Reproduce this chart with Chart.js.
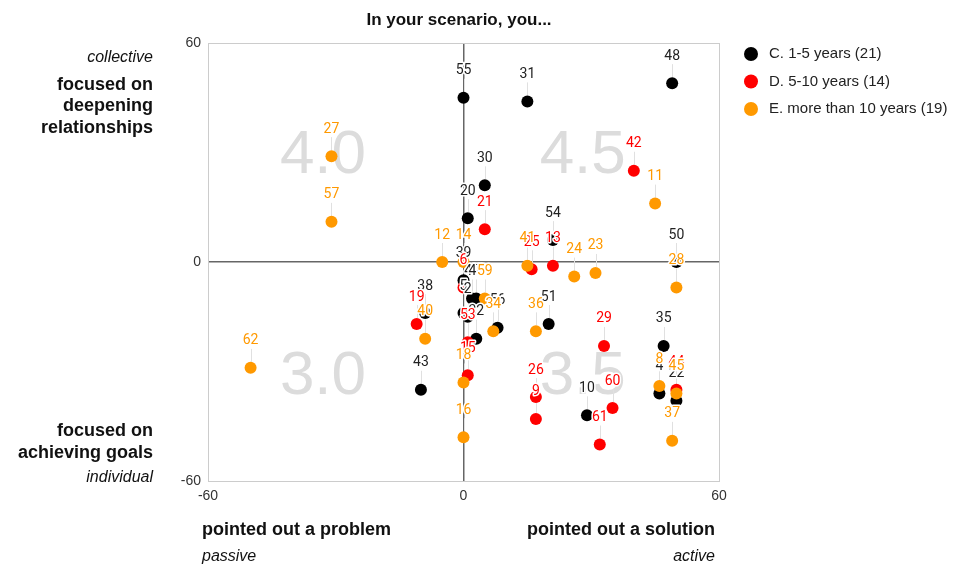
<!DOCTYPE html>
<html>
<head>
<meta charset="utf-8">
<script src="https://cdn.jsdelivr.net/npm/chart.js@4/dist/chart.umd.min.js"></script>
<style>
html,body{margin:0;padding:0;background:#fff;}
canvas{display:block;}
</style>
</head>
<body>
<canvas id="c" width="960" height="587"></canvas>
<script>
// ---- data ----
const seriesNames = ['C. 1-5 years (21)', 'D. 5-10 years (14)', 'E. more than 10 years (19)'];
const seriesColors = ['#000000', '#ff0000', '#ff9900'];
const labelColors = ['#222222', '#ff0000', '#ff9900'];

const cLabels = ['55','31','48','30','20','54','50','39','47','46','56','32','51','38','43','35','10','4','22','5','2'];
const cX      = [0, 15, 49, 5, 1, 21, 50, 0, 2, 3, 8, 3, 20, -9, -10, 47, 29, 46, 50, 0, 1];
const cY      = [45, 44, 49, 21, 12, 6, 0, -5, -10, -10, -18, -21, -17, -14, -35, -23, -42, -36, -38, -14, -15];

const dLabels = ['42','21','25','13','6','19','53','15','29','26','9','60','61','44'];
const dX      = [40, 5, 16, 21, 0, -11, 1, 1, 33, 17, 17, 35, 32, 50];
const dY      = [25, 9, -2, -1, -7, -17, -22, -31, -23, -37, -43, -40, -50, -35];

const eLabels = ['27','57','11','12','14','41','24','23','28','59','34','36','40','62','18','16','8','45','37'];
const eX      = [-31, -31, 45, -5, 0, 15, 26, 31, 50, 5, 7, 17, -9, -50, 0, 0, 46, 50, 49];
const eY      = [29, 11, 16, 0, 0, -1, -4, -3, -7, -10, -19, -19, -21, -29, -33, -48, -34, -36, -49];

const axisTicks = [-60, 0, 60];
const quadrantTexts = ['4.0', '4.5', '3.0', '3.5'];
const titleText = 'In your scenario, you...';

function pts(xs, ys){ return xs.map((x,i)=>({x:x, y:ys[i]})); }
const allLabels = [cLabels, dLabels, eLabels];

const FONT = '"Liberation Sans", Arial, sans-serif';

const overlay = {
  id: 'overlay',
  beforeDatasetsDraw(chart){
    const ctx = chart.ctx, xs = chart.scales.x, ys = chart.scales.y;
    ctx.save();
    // quadrant watermark numbers
    ctx.fillStyle = '#dcdcdc';
    ctx.font = '62px ' + FONT;
    ctx.textAlign = 'center';
    ctx.textBaseline = 'middle';
    const qx = [-33, 28, -33, 28], qy = [29, 29, -31.5, -31.5];
    quadrantTexts.forEach((t,i)=>{
      ctx.fillText(t, xs.getPixelForValue(qx[i]), ys.getPixelForValue(qy[i]));
    });
    // stems
    ctx.strokeStyle = '#e0e0e0';
    ctx.lineWidth = 1;
    chart.data.datasets.forEach((ds, di)=>{
      const meta = chart.getDatasetMeta(di);
      meta.data.forEach((p)=>{
        ctx.beginPath();
        ctx.moveTo(Math.round(p.x)+0.5, p.y - 19);
        ctx.lineTo(Math.round(p.x)+0.5, p.y - 6);
        ctx.stroke();
      });
    });
    ctx.restore();
  },
  afterDatasetsDraw(chart){
    const ctx = chart.ctx;
    ctx.save();
    ctx.font = '14px Roboto, ' + FONT;
    ctx.textAlign = 'center';
    ctx.textBaseline = 'middle';
    ctx.lineJoin = 'round';
    chart.data.datasets.forEach((ds, di)=>{
      const meta = chart.getDatasetMeta(di);
      meta.data.forEach((p, i)=>{
        const t = allLabels[di][i];
        ctx.strokeStyle = '#ffffff';
        ctx.lineWidth = 3;
        ctx.strokeText(t, p.x, p.y - 27);
        ctx.fillStyle = labelColors[di];
        ctx.fillText(t, p.x, p.y - 27);
      });
    });
    ctx.restore();
  },
  afterDraw(chart){
    const ctx = chart.ctx;
    ctx.save();
    ctx.textBaseline = 'middle';
    // title
    ctx.fillStyle = '#111';
    ctx.font = 'bold 17px ' + FONT;
    ctx.textAlign = 'center';
    ctx.fillText(titleText, 459, 20);
    // left side
    ctx.textAlign = 'right';
    ctx.font = 'italic 16px ' + FONT;
    ctx.fillStyle = '#111';
    ctx.fillText('collective', 153, 58);
    ctx.fillText('individual', 153, 478);
    ctx.font = 'bold 18px ' + FONT;
    ctx.fillText('focused on', 153, 85);
    ctx.fillText('deepening', 153, 106);
    ctx.fillText('relationships', 153, 128);
    ctx.fillText('focused on', 153, 431);
    ctx.fillText('achieving goals', 153, 453);
    // bottom
    ctx.textAlign = 'left';
    ctx.fillText('pointed out a problem', 202, 530);
    ctx.textAlign = 'right';
    ctx.fillText('pointed out a solution', 715, 530);
    ctx.font = 'italic 16px ' + FONT;
    ctx.textAlign = 'left';
    ctx.fillText('passive', 202, 557);
    ctx.textAlign = 'right';
    ctx.fillText('active', 715, 557);
    // legend
    ctx.textAlign = 'left';
    ctx.font = '15px ' + FONT;
    seriesNames.forEach((n,i)=>{
      const y = 54 + i*27.5;
      ctx.fillStyle = seriesColors[i];
      ctx.beginPath();
      ctx.arc(751, y, 7, 0, Math.PI*2);
      ctx.fill();
      ctx.fillStyle = '#222';
      ctx.fillText(n, 769, y);
    });
    ctx.restore();
  }
};

const gridColor = (c) => (c.tick && c.tick.value === 0) ? '#666666' : '#cccccc';
const gridWidth = (c) => (c.tick && c.tick.value === 0) ? 1.5 : 1;

new Chart(document.getElementById('c'), {
  type: 'scatter',
  data: {
    datasets: [
      {label: seriesNames[0], data: pts(cX, cY), backgroundColor: seriesColors[0], order: 3},
      {label: seriesNames[1], data: pts(dX, dY), backgroundColor: seriesColors[1], order: 2},
      {label: seriesNames[2], data: pts(eX, eY), backgroundColor: seriesColors[2], order: 1}
    ]
  },
  options: {
    responsive: false,
    animation: false,
    devicePixelRatio: 1,
    layout: { padding: { left: 168, right: 241, top: 43, bottom: 76 } },
    elements: { point: { radius: 6, borderWidth: 0, hoverRadius: 6 } },
    plugins: { legend: { display: false }, tooltip: { enabled: false }, title: { display: false } },
    scales: {
      x: {
        type: 'linear', min: -60, max: 60,
        afterBuildTicks: (s) => { s.ticks = axisTicks.map(v => ({value: v})); },
        afterFit: (s) => { s.height = 30; },
        ticks: { color: '#333', font: { size: 14, family: FONT }, padding: 7, maxRotation: 0 },
        grid: { color: gridColor, lineWidth: gridWidth, drawTicks: false },
        border: { color: '#cccccc' }
      },
      y: {
        type: 'linear', min: -60, max: 60,
        afterBuildTicks: (s) => { s.ticks = axisTicks.map(v => ({value: v})); },
        afterFit: (s) => { s.width = 40; },
        ticks: { color: '#333', font: { size: 14, family: FONT }, padding: 7 },
        grid: { color: gridColor, lineWidth: gridWidth, drawTicks: false },
        border: { color: '#cccccc' }
      }
    }
  },
  plugins: [overlay]
});
</script>
</body>
</html>
